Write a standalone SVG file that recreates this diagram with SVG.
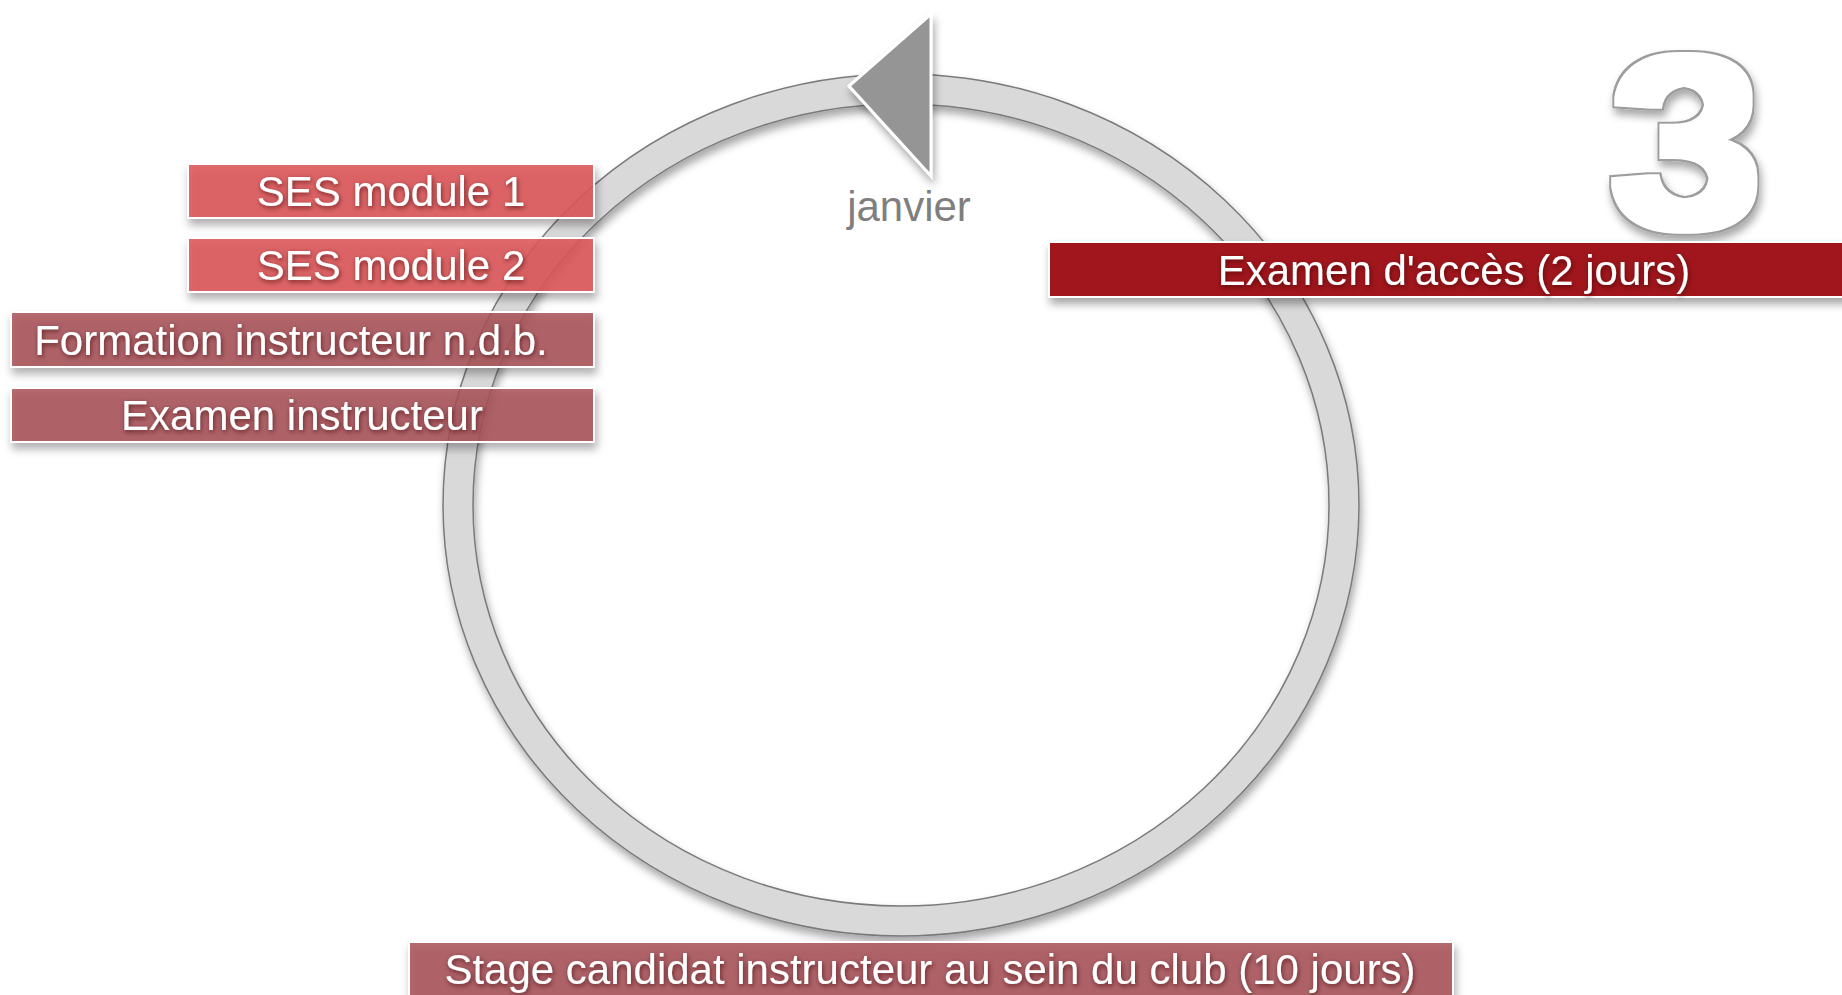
<svg xmlns="http://www.w3.org/2000/svg" width="1842" height="995" viewBox="0 0 1842 995">
<defs>
<filter id="sh" x="-10%" y="-10%" width="130%" height="140%">
<feDropShadow dx="2" dy="6" stdDeviation="4" flood-color="#000" flood-opacity="0.35"/>
</filter>
<filter id="tsh" x="-10%" y="-30%" width="120%" height="160%">
<feDropShadow dx="1" dy="2" stdDeviation="2.5" flood-color="#3a0000" flood-opacity="0.65"/>
</filter>
<filter id="fat" x="-30%" y="-30%" width="160%" height="160%">
<feMorphology in="SourceAlpha" operator="dilate" radius="6" result="outer"/>
<feMorphology in="SourceAlpha" operator="dilate" radius="4.3" result="inner"/>
<feFlood flood-color="#9d9d9d" result="g"/>
<feComposite in="g" in2="outer" operator="in" result="grayOuter"/>
<feFlood flood-color="#ffffff" result="w"/>
<feComposite in="w" in2="inner" operator="in" result="whiteInner"/>
<feGaussianBlur in="outer" stdDeviation="4" result="blur"/>
<feOffset in="blur" dx="2" dy="6" result="off"/>
<feComponentTransfer in="off" result="shadow"><feFuncA type="linear" slope="0.35"/></feComponentTransfer>
<feMerge><feMergeNode in="shadow"/><feMergeNode in="grayOuter"/><feMergeNode in="whiteInner"/></feMerge>
</filter>
<style>
.box { stroke: #ffffff; stroke-width: 2; filter: url(#sh); }
.ses { fill: #dd5558; fill-opacity: 0.88; }
.mauve { fill: #a85258; fill-opacity: 0.85; }
.dark { fill: #a0181f; }
.lbl { font-family: "Liberation Sans", Arial, sans-serif; font-size: 42px; fill: #ffffff; text-anchor: middle; filter: url(#tsh); }
</style>
</defs>
<rect width="1842" height="995" fill="#ffffff"/>
<g id="connectors">
<g filter="url(#sh)">
<ellipse cx="901" cy="505" rx="443" ry="416" fill="none" stroke="#d9d9d9" stroke-width="30"/>
<ellipse cx="901" cy="505" rx="458" ry="431" fill="none" stroke="#7a7a7a" stroke-width="1.5"/>
<ellipse cx="901" cy="505" rx="428" ry="401" fill="none" stroke="#7a7a7a" stroke-width="1.5"/>
</g>
<polygon points="849,86 931,14 931,176" fill="#959595" stroke="#ffffff" stroke-width="3" filter="url(#sh)"/>
</g>
<g id="label-janvier">
<text x="909" y="221" font-family="Liberation Sans, Arial, sans-serif" font-size="42" fill="#7f7f7f" text-anchor="middle">janvier</text>
</g>
<g id="big-3">
<text transform="translate(1686,227) scale(1.12,1)" x="0" y="0" font-family="Liberation Sans, Arial, sans-serif" font-weight="bold" font-size="245" fill="#ffffff" text-anchor="middle" filter="url(#fat)">3</text>
</g>
<g id="node-ses1">
<rect class="box ses" x="188" y="164" width="406" height="54"/>
<text class="lbl" x="391" y="206">SES module 1</text>
</g>
<g id="node-ses2">
<rect class="box ses" x="188" y="238" width="406" height="54"/>
<text class="lbl" x="391" y="280">SES module 2</text>
</g>
<g id="node-formation">
<rect class="box mauve" x="11" y="312" width="583" height="55"/>
<text class="lbl" x="291" y="355">Formation instructeur n.d.b.</text>
</g>
<g id="node-examen-instructeur">
<rect class="box mauve" x="11" y="388" width="583" height="54"/>
<text class="lbl" x="302" y="430">Examen instructeur</text>
</g>
<g id="node-examen-acces">
<rect class="box dark" x="1049" y="242" width="800" height="55"/>
<text class="lbl" x="1454" y="285">Examen d'accès (2 jours)</text>
</g>
<g id="node-stage">
<rect class="box mauve" x="409" y="942" width="1044" height="60"/>
<text class="lbl" x="930" y="984" font-size="42.4">Stage candidat instructeur au sein du club (10 jours)</text>
</g>
</svg>
